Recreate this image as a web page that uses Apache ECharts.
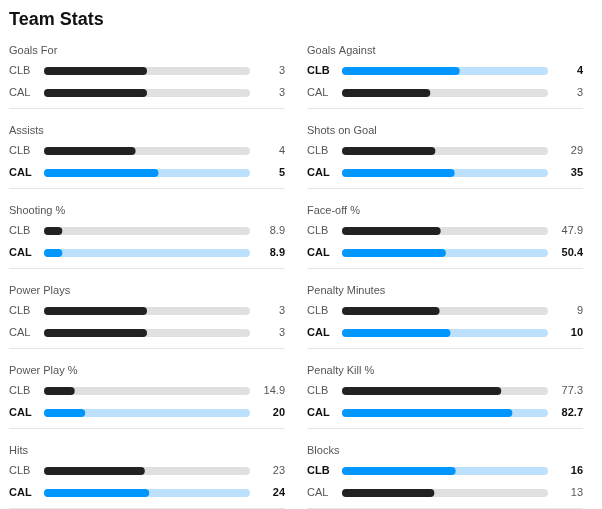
<!DOCTYPE html>
<html>
<head>
<meta charset="utf-8">
<script src="https://cdn.jsdelivr.net/npm/echarts@6/dist/echarts.min.js"></script>
<style>html,body{margin:0;padding:0;background:#fff;}#c{width:602px;height:509px;}</style>
</head>
<body>
<div id="c"></div>
<script>
// Stats in row-major order (left column, right column)
const statNames = ['Goals For','Goals Against','Assists','Shots on Goal','Shooting %','Face-off %','Power Plays','Penalty Minutes','Power Play %','Penalty Kill %','Hits','Blocks'];
const teams = ['CLB','CAL'];
const clbValues = [3, 4, 4, 29, 8.9, 47.9, 3, 9, 14.9, 77.3, 23, 16];
const calValues = [3, 3, 5, 35, 8.9, 50.4, 3, 10, 20, 82.7, 24, 13];
const leaders = ['', 'CLB', 'CAL', 'CAL', 'CAL', 'CAL', '', 'CAL', 'CAL', 'CAL', 'CAL', 'CLB'];
const isPercent = [false,false,false,false,true,true,false,false,true,true,false,false];

const FONT = 'Liberation Sans, Arial, sans-serif';
const C = {
  dark: '#222222', track: '#e0e0e0', blue: '#0095ff', lightBlue: '#bde0fd',
  text: '#555555', bold: '#111111', sep: '#e6e6e6'
};

const grids = [], xAxes = [], yAxes = [], series = [], titles = [], graphics = [];
titles.push({ text: 'Team Stats', left: 9, top: 11, padding: 0, textStyle: { fontFamily: FONT, fontSize: 18, fontWeight: 'bold', color: '#111' } });

statNames.forEach((name, i) => {
  const col = i % 2, row = Math.floor(i / 2);
  const gl = col === 0 ? 44 : 342;
  const top = 60 + row * 80;
  const vals = [clbValues[i], calValues[i]];
  const maxV = isPercent[i] ? 100 : clbValues[i] + calValues[i];
  grids.push({ left: gl, width: 206, top: top, height: 44 });
  xAxes.push({ type: 'value', gridIndex: i, min: 0, max: maxV, show: false });
  const lab = (idx, isVal) => {
    const t = isVal ? String(vals[idx]) : teams[idx];
    return leaders[i] === teams[idx] ? '{b|' + t + '}' : '{n|' + t + '}';
  };
  const rich = {
    b: { fontFamily: FONT, fontSize: 11, fontWeight: 'bold', color: C.bold },
    n: { fontFamily: FONT, fontSize: 11, color: C.text }
  };
  yAxes.push({ type: 'category', gridIndex: i, data: teams, inverse: true, position: 'left',
    axisLine: { show: false }, axisTick: { show: false }, splitLine: { show: false },
    axisLabel: { align: 'left', margin: 35, formatter: (v, idx) => lab(idx, false), rich } });
  yAxes.push({ type: 'category', gridIndex: i, data: teams, inverse: true, position: 'right',
    axisLine: { show: false }, axisTick: { show: false }, splitLine: { show: false },
    axisLabel: { align: 'right', margin: 35, formatter: (v, idx) => lab(idx, true), rich } });
  series.push({ type: 'bar', xAxisIndex: i, yAxisIndex: 2 * i, barWidth: 8, barGap: '-100%', silent: true,
    data: teams.map((t, k) => ({ value: maxV, itemStyle: { color: leaders[i] === t ? C.lightBlue : C.track, borderRadius: 4 } })) });
  series.push({ type: 'bar', xAxisIndex: i, yAxisIndex: 2 * i, barWidth: 8, barGap: '-100%', silent: true,
    data: teams.map((t, k) => ({ value: vals[k], itemStyle: { color: leaders[i] === t ? C.blue : C.dark, borderRadius: 4 } })) });
  titles.push({ text: name, left: col === 0 ? 9 : 307, top: 45 + row * 80, padding: 0,
    textStyle: { fontFamily: FONT, fontSize: 11, fontWeight: 'normal', color: C.text } });
  const x1 = col === 0 ? 9 : 307;
  graphics.push({ type: 'line', silent: true, shape: { x1: x1, y1: 108.5 + row * 80, x2: x1 + 276, y2: 108.5 + row * 80 }, style: { stroke: C.sep, lineWidth: 1 } });
});

const chart = echarts.init(document.getElementById('c'));
chart.setOption({
  animation: false,
  backgroundColor: '#fff',
  title: titles,
  grid: grids,
  xAxis: xAxes,
  yAxis: yAxes,
  series: series,
  graphic: graphics
});
</script>
</body>
</html>
